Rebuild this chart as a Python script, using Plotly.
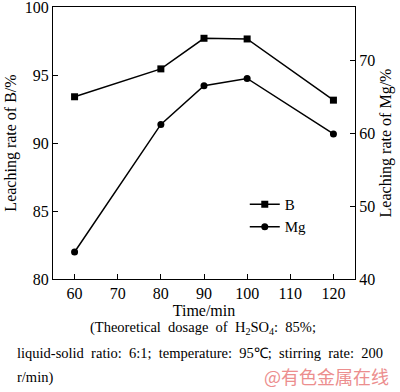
import plotly.graph_objects as go

time_min = [60, 80, 90, 100, 120]
b_rate = [93.4, 95.45, 97.7, 97.65, 93.15]
mg_rate = [43.7, 61.2, 66.5, 67.5, 59.9]

x_ticks = [60, 70, 80, 90, 100, 110, 120]
y_left_ticks = [80, 85, 90, 95, 100]
y_right_ticks = [40, 50, 60, 70]

FONT = "Liberation Serif"

fig = go.Figure()
fig.add_trace(go.Scatter(
    x=time_min, y=b_rate, name="B", mode="lines+markers",
    line=dict(color="black", width=1.5),
    marker=dict(symbol="square", size=7, color="black"),
))
fig.add_trace(go.Scatter(
    x=time_min, y=mg_rate, name="Mg", mode="lines+markers", yaxis="y2",
    line=dict(color="black", width=1.5),
    marker=dict(symbol="circle", size=7, color="black"),
))

axis_common = dict(
    showline=True, linecolor="black", linewidth=1.2,
    ticks="inside", ticklen=5, tickwidth=1.2, tickcolor="black",
    showgrid=False, zeroline=False, automargin=False,
    ticklabeloverflow="allow",
    tickfont=dict(family=FONT, size=16, color="black"),
)

fig.update_layout(
    width=400, height=392,
    margin=dict(l=53, r=45, t=7, b=113),
    paper_bgcolor="white", plot_bgcolor="white",
    font=dict(family=FONT, color="black"),
    showlegend=True,
    legend=dict(
        x=0.635, y=0.335, xanchor="left", yanchor="top",
        bgcolor="rgba(0,0,0,0)", itemwidth=30,
        font=dict(family=FONT, size=15, color="black"),
        tracegroupgap=0,
    ),
    xaxis=dict(
        range=[55, 125], tickvals=x_ticks, mirror=True,
        title=dict(text="Time/min", font=dict(family=FONT, size=16), standoff=0),
        **axis_common,
    ),
    yaxis=dict(
        range=[80, 100], tickvals=y_left_ticks,
        title=dict(text="Leaching rate of B/%", font=dict(family=FONT, size=16), standoff=4),
        **axis_common,
    ),
    yaxis2=dict(
        range=[40, 77.3], tickvals=y_right_ticks, overlaying="y", side="right",
        title=dict(text="Leaching rate of Mg/%", font=dict(family=FONT, size=16), standoff=5),
        **axis_common,
    ),
)

captions = [
    ("(Theoretical  dosage  of  H<sub>2</sub>SO<sub>4</sub>:  85%;", 88, 328),
    ("liquid-solid  ratio:  6:1;  temperature:  95℃;  stirring  rate:  200", 15, 353),
    ("r/min)", 15, 377),
]
for text, px, py in captions:
    fig.add_annotation(
        text=text, xref="paper", yref="paper",
        x=(px - 53) / 302, y=(279 - py) / 272,
        xanchor="left", yanchor="middle", showarrow=False,
        font=dict(family=FONT, size=14.5, color="black"),
    )

fig.add_annotation(
    text="@有色金属在线", xref="paper", yref="paper",
    x=(391 - 53) / 302, y=(279 - 376) / 272,
    xanchor="right", yanchor="middle", showarrow=False,
    font=dict(family="Noto Sans CJK SC", size=18, color="#ec8e8e"),
)

fig.write_html(
    "out.html",
    config={"displayModeBar": False},
    post_script="document.body.style.margin='0';document.body.style.overflow='hidden';",
)
